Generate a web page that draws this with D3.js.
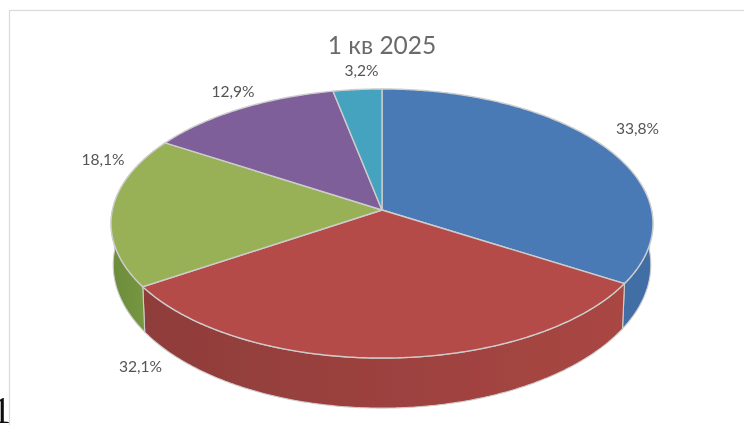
<!DOCTYPE html>
<html>
<head>
	<title>1 кв 2025</title>
	<script src="https://d3js.org/d3.v7.min.js"></script>
	<style>
		html, body { margin: 0; padding: 0; background: white; overflow: hidden; }
		svg { display: block; }
		text { font-family: Lato, "Open Sans", sans-serif; }
	</style>
</head>
<body>
	<svg></svg>
	<script type="text/javascript">
		const title = "1 кв 2025";
		const shares = [33.8, 32.1, 18.1, 12.9, 3.2];
		const labels = ["33,8%", "32,1%", "18,1%", "12,9%", "3,2%"];
		const topColors = ["#4a7ab5", "#b54c48", "#98b157", "#7e5e99", "#45a3bf"];
		const sideColors = [["#3f6ea5", "#3f6ea5"], ["#8f3d3a", "#a94643"], ["#6c8c3e", "#76963f"], ["#6a4c85", "#6a4c85"], ["#3a8aa3", "#3a8aa3"]];
		const labelX = [637.5, 140.5, 103, 233, 361.5];
		const labelY = [129, 367, 160, 92, 71];

		const w = 744;
		const h = 425;
		const cx = 382;
		const hub_y = 210;
		const r_x = 269.6;
		const r_y = 133.2;
		const persp = 0.1004;
		const depth = 40.5;

		const svg = d3.select("svg").attr("width", w).attr("height", h);

		const defs = svg.append("defs");
		defs.append("filter").attr("id", "soft").append("feGaussianBlur").attr("stdDeviation", 0.45);
		defs.append("filter").attr("id", "softtext").append("feGaussianBlur").attr("stdDeviation", 0.35);

		// chart frame runs off the right and bottom of the photo
		svg.append("rect").attr("x", 9.5).attr("y", 10.5).attr("width", 760).attr("height", 440)
			.style("fill", "white").style("stroke", "#d9d9d9").style("stroke-width", 1.2);

		// the disc is a circle seen in perspective, a = clockwise from the top
		function topPoint(a) {
			const u = Math.sin(a), v = -Math.cos(a), den = 1 - persp * v;
			return [cx + r_x * u / den, hub_y + r_y * v / den];
		}
		function bottomPoint(a) {
			const u = Math.sin(a), v = -Math.cos(a), den = 1 - persp * v;
			return [cx + 0.992 * r_x * u / den, hub_y + r_y * v / den + depth / (den * den)];
		}
		function arcPoints(f, a0, a1) {
			const n = Math.max(2, Math.ceil(Math.abs(a1 - a0) / 0.01));
			return d3.range(n + 1).map(i => f(a0 + (a1 - a0) * i / n));
		}

		const line = d3.line();
		const slices = d3.pie().sort(null).value(d => d)(shares);
		const chart = svg.append("g").attr("filter", "url(#soft)");

		// side wall, only the front half (90deg to 270deg) plus the edge past the widest point
		const side_from = Math.PI * 0.5;
		const side_to = Math.PI * 1.5;
		slices.forEach(function(s, i) {
			const a0 = Math.max(s.startAngle, side_from);
			const a1 = Math.min(s.endAngle, side_to);
			if (a1 <= a0) return;
			const id = "side" + i;
			const p0 = topPoint(a0), p1 = topPoint(a1);
			const grad = defs.append("linearGradient").attr("id", id).attr("gradientUnits", "userSpaceOnUse")
				.attr("x1", p1[0]).attr("x2", p0[0]).attr("y1", 0).attr("y2", 0);
			grad.append("stop").attr("offset", 0).attr("stop-color", sideColors[i][0]);
			grad.append("stop").attr("offset", 1).attr("stop-color", sideColors[i][1]);
			const pts = arcPoints(topPoint, a0, a1).concat(arcPoints(bottomPoint, a1, a0));
			chart.append("path").attr("d", line(pts) + "Z")
				.style("fill", "url(#" + id + ")").style("stroke", "#cdcdcd").style("stroke-width", 1.1);
		});

		// top face
		slices.forEach(function(s, i) {
			const pts = [[cx, hub_y]].concat(arcPoints(topPoint, s.startAngle, s.endAngle));
			chart.append("path").attr("d", line(pts) + "Z")
				.style("fill", topColors[i]).style("stroke", "#cdcdcd").style("stroke-width", 1.4);
		});

		const texts = svg.append("g").attr("filter", "url(#softtext)");

		texts.append("text").attr("x", cx).attr("y", 54).attr("text-anchor", "middle")
			.style("font-size", "24.5px").style("fill", "#6b6b6b").text(title);

		texts.selectAll(".lab").data(labels).join("text").attr("class", "lab")
			.attr("x", (d, i) => labelX[i]).attr("y", (d, i) => labelY[i] + 5)
			.attr("text-anchor", "middle")
			.style("font-size", "15.6px").style("fill", "#555555").text(d => d);

		// cropped digit at the left edge of the page, outside the chart frame
		texts.append("text").attr("x", -7.5).attr("y", 423)
			.style("font-family", "'Liberation Serif', serif").style("font-size", "37px").style("fill", "#111111").text("1");
	</script>
</body>
</html>
